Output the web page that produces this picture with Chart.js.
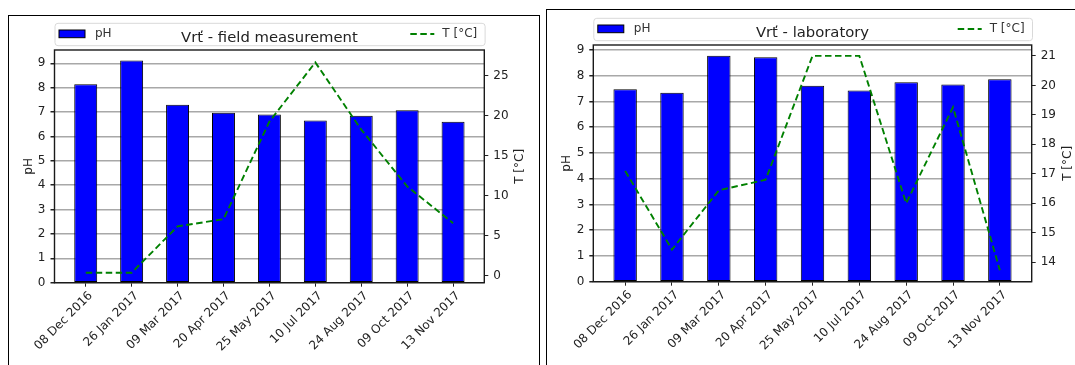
<!DOCTYPE html>
<html>
<head>
<meta charset="utf-8">
<script src="https://cdn.jsdelivr.net/npm/chart.js@4.4.1/dist/chart.umd.min.js"></script>
<style>
  html, body { margin: 0; padding: 0; background: #fff; overflow: hidden; width: 1075px; height: 365px; }
  .frame { position: absolute; border: 1px solid #000; }
  #frameA { left: 8px; top: 15px; width: 530px; height: 400px; }
  #frameB { left: 546px; top: 9px; width: 600px; height: 400px; }
  canvas { position: absolute; }
  #field { left: 9px; top: 16px; }
  #lab { left: 547px; top: 11px; }
</style>
</head>
<body>
<div class="frame" id="frameA"></div>
<div class="frame" id="frameB"></div>
<canvas id="field" width="530" height="349"></canvas>
<canvas id="lab" width="528" height="354"></canvas>
<script>
const dates = ['08 Dec 2016', '26 Jan 2017', '09 Mar 2017', '20 Apr 2017', '25 May 2017',
  '10 Jul 2017', '24 Aug 2017', '09 Oct 2017', '13 Nov 2017'];

// field measurement
const phField = [8.14, 9.11, 7.3, 6.97, 6.9, 6.65, 6.85, 7.07, 6.6];
const tempField = [0.4, 0.4, 6.2, 7.1, 19.3, 26.7, 18.3, 11.2, 6.6];

// laboratory
const phLab = [7.47, 7.34, 8.77, 8.71, 7.61, 7.42, 7.74, 7.66, 7.86];
const tempLab = [17.1, 14.43, 16.44, 16.8, 21.0, 21.0, 16.0, 19.26, 13.73];

Chart.defaults.font.family = 'DejaVu Sans';
Chart.defaults.color = '#222';

const FONT = 'DejaVu Sans';

// plot frame, legend box with title, right axis title
const decorations = {
  id: 'decorations',
  afterDraw(chart, args, opts) {
    const { ctx, chartArea: a } = chart;
    const bar = chart.data.datasets.find(d => d.type === 'bar');
    const line = chart.data.datasets.find(d => d.type === 'line');
    ctx.save();

    ctx.strokeStyle = '#1a1a1a';
    ctx.lineWidth = 1.4;
    ctx.strokeRect(a.left, a.top, a.right - a.left, a.bottom - a.top);

    // legend box
    const bx = a.left + 0.5, by = a.top - 26.7, bw = a.right - a.left + 0.3, bh = 22.4;
    ctx.beginPath();
    ctx.roundRect(bx, by, bw, bh, 3);
    ctx.fillStyle = 'rgba(255,255,255,0.8)';
    ctx.fill();
    ctx.strokeStyle = '#d9d9d9';
    ctx.lineWidth = 1;
    ctx.stroke();

    const cy = a.top - 16;
    ctx.fillStyle = bar.backgroundColor;
    ctx.fillRect(a.left + 4.5, cy - 4, 26, 7.7);
    ctx.strokeStyle = '#000';
    ctx.lineWidth = 1;
    ctx.strokeRect(a.left + 4.5, cy - 4, 26, 7.7);

    ctx.font = '12px ' + FONT;
    ctx.fillStyle = '#333';
    ctx.textBaseline = 'middle';
    ctx.textAlign = 'left';
    ctx.fillText(bar.label, a.left + 40.5, cy);

    ctx.strokeStyle = line.borderColor;
    ctx.lineWidth = line.borderWidth;
    ctx.setLineDash(line.borderDash);
    ctx.beginPath();
    ctx.moveTo(a.right - 74, cy);
    ctx.lineTo(a.right - 50, cy);
    ctx.stroke();
    ctx.setLineDash([]);
    ctx.fillText(line.label, a.right - 42, cy);

    ctx.font = '14.8px ' + FONT;
    ctx.fillStyle = '#222';
    ctx.textAlign = 'center';
    ctx.fillText(opts.title, (a.left + a.right) / 2, a.top - 12);

    // right axis title, reads bottom to top like the reference
    ctx.font = '12px ' + FONT;
    ctx.translate(a.right + 36, (a.top + a.bottom) / 2);
    ctx.rotate(-Math.PI / 2);
    ctx.fillText(line.label, 0, 0);
    ctx.restore();
  }
};

function makeChart(id, title, ph, temp, o) {
  return new Chart(document.getElementById(id), {
    type: 'bar',
    data: {
      datasets: [
        {
          type: 'line',
          label: 'T [°C]',
          data: temp.map((t, i) => ({ x: i, y: t })),
          yAxisID: 'y1',
          borderColor: '#008000',
          borderWidth: 1.9,
          borderDash: [6.5, 3.5],
          pointRadius: 0,
          tension: 0,
          order: 1
        },
        {
          type: 'bar',
          label: 'pH',
          data: ph.map((v, i) => ({ x: i, y: v })),
          yAxisID: 'y',
          backgroundColor: '#0000ff',
          borderColor: '#000',
          borderWidth: 1,
          borderSkipped: false,
          barPercentage: 0.5,
          categoryPercentage: 1,
          order: 2
        }
      ]
    },
    options: {
      responsive: false,
      animation: false,
      layout: { padding: { top: 34, left: 0, right: 0, bottom: 0 } },
      plugins: {
        legend: { display: false },
        tooltip: { enabled: false },
        decorations: { title: title }
      },
      scales: {
        x: {
          type: 'linear',
          min: -0.68,
          max: 8.68,
          offset: false,
          grid: { drawOnChartArea: false, tickLength: 4, tickColor: '#222', offset: false },
          border: { display: false },
          afterBuildTicks: s => { s.ticks = dates.map((d, i) => ({ value: i })); },
          afterFit: s => { s.height = o.xH; },
          ticks: {
            autoSkip: false,
            minRotation: 45,
            maxRotation: 45,
            padding: 2,
            labelOffset: 5,
            font: { size: 12 },
            callback: v => dates[v]
          }
        },
        y: {
          position: 'left',
          min: 0,
          max: o.phMax,
          grid: { color: '#a8a8a8', lineWidth: 1.5, tickLength: 4, tickColor: '#222' },
          border: { display: false },
          afterFit: s => { s.width = o.yW; },
          ticks: { stepSize: 1, includeBounds: false, padding: 5, font: { size: 12 } },
          title: { display: true, text: 'pH', font: { size: 12 }, padding: { top: 12.8 } }
        },
        y1: {
          position: 'right',
          min: o.tMin,
          max: o.tMax,
          grid: { drawOnChartArea: false, tickLength: 4, tickColor: '#222' },
          border: { display: false },
          afterFit: s => { s.width = o.y1W; },
          ticks: { stepSize: o.tStep, includeBounds: false, padding: 5, font: { size: 12 } }
        }
      }
    },
    plugins: [decorations]
  });
}

makeChart('field', 'Vrť - field measurement', phField, tempField,
  { phMax: 9.545, tMin: -0.84, tMax: 28.25, tStep: 5, yW: 45.5, y1W: 54.7, xH: 82.3 });

makeChart('lab', 'Vrť - laboratory', phLab, tempLab,
  { phMax: 9.19, tMin: 13.34, tMax: 21.37, tStep: 1, yW: 46.3, y1W: 43.3, xH: 83.3 });
</script>
</body>
</html>
